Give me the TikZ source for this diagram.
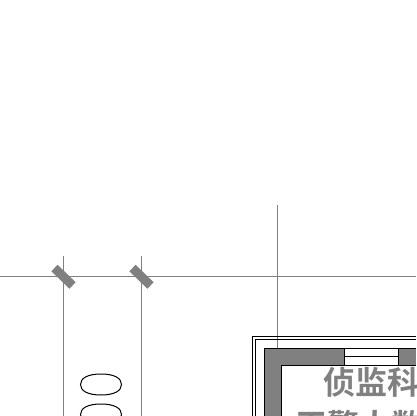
\documentclass[tikz,border=0pt]{standalone}
\usepackage{fontspec}
\newfontfamily\cjk{Noto Sans CJK SC Bold}
\usetikzlibrary{shapes.geometric, positioning}
\definecolor{wallgray}{HTML}{808080}
\tikzstyle{axisline} = [draw=wallgray, line width=1pt]
\tikzstyle{tick} = [draw=wallgray, line width=9pt]
\tikzstyle{outline} = [draw=black, line width=1pt]
\tikzstyle{roomtext} = [text=wallgray, font=\cjk\fontsize{32pt}{32pt}\selectfont, inner sep=0pt, anchor=west]
\newcommand{\stoneshape}[1]{\path [outline] (#1) ++(-20.5,0) .. controls +(0,-6.5) and +(-13,0) .. ++(20.5,-10.5) .. controls +(13,0) and +(0,-6.5) .. ++(20.5,10.5) .. controls +(0,6.5) and +(13,0) .. ++(-20.5,10.5) .. controls +(-13,0) and +(0,6.5) .. cycle;}
\begin{document}
\begin{tikzpicture}[x=1pt, y=-1pt]
	\useasboundingbox (0,0) rectangle (416,416);

	% axis lines
	\coordinate (hleft) at (0,276.5);
	\coordinate (hright) at (416,276.5);
	\coordinate (atop) at (63.5,256);
	\coordinate (abot) at (63.5,416);
	\coordinate (btop) at (141.5,256);
	\coordinate (bbot) at (141.5,416);
	\coordinate (ctop) at (277.5,205);
	\coordinate (cbot) at (277.5,348);
	\path [axisline] (hleft) -- (hright);
	\path [axisline] (atop) -- (abot);
	\path [axisline] (btop) -- (bbot);
	\path [axisline] (ctop) -- (cbot);

	% ticks
	\coordinate (a1) at (54.5,268);
	\coordinate (a2) at (72.5,285.5);
	\coordinate (b1) at (132.5,268);
	\coordinate (b2) at (150.5,285.5);
	\path [tick] (a1) -- (a2);
	\path [tick] (b1) -- (b2);

	% stones
	\begin{scope}
		\clip (0,0) rectangle (416,416);
		\stoneshape{101,384.5}
		\stoneshape{101,414.5}
	\end{scope}

	% outer walls
	\path [outline] (416,336.5) -- (252.5,336.5) -- (252.5,416);
	\path [outline] (416,339.5) -- (255.5,339.5) -- (255.5,416);

	% wall
	\fill [wallgray] (264,348) rectangle (344.5,365.5);
	\fill [wallgray] (398.5,348) rectangle (416,365.5);
	\fill [wallgray] (264,348) rectangle (281.5,416);
	\path [outline] (416,348.5) -- (264.5,348.5) -- (264.5,416);
	\path [outline] (416,365.5) -- (281.5,365.5) -- (281.5,416);
	\path [outline] (344.5,348.5) -- (344.5,365.5);
	\path [outline] (398.5,348.5) -- (398.5,365.5);
	\path [outline] (344.5,356.5) -- (398.5,356.5);

	% room label
	\begin{scope}
		\clip (0,0) rectangle (416,416);
		\node [roomtext] (room1) at (323,382) {侦监科};
		\node [roomtext] (room2) at (295,425) {干警人数};
	\end{scope}
\end{tikzpicture}
\end{document}
